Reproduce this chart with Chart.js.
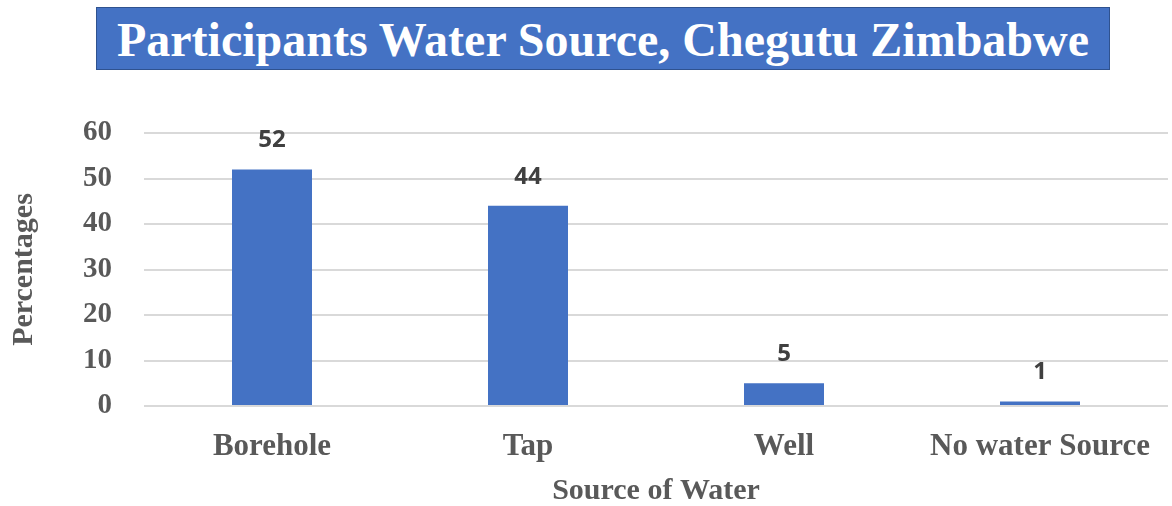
<!DOCTYPE html>
<html>
<head>
<meta charset="utf-8">
<script src="https://cdn.jsdelivr.net/npm/chart.js@4.4.1/dist/chart.umd.min.js"></script>
<style>
  html, body { margin: 0; padding: 0; background: #fff; }
  #wrap { position: relative; width: 1172px; height: 506px; }
  #titleBox {
    position: absolute; left: 96px; top: 7px; width: 1012px; height: 61px;
    background: #4472C4; border: 1px solid #2F528F;
    color: #fff; font: bold 48px "Liberation Serif", "Times New Roman", serif;
    text-align: center; line-height: 64px; white-space: nowrap;
  }
</style>
</head>
<body>
<div id="wrap">
  <canvas id="myChart" width="1172" height="506"></canvas>
  <div id="titleBox">Participants Water Source, Chegutu Zimbabwe</div>
</div>
<script>
// données
var categories = ['Borehole', 'Tap', 'Well', 'No water Source'];
var percentages = [52, 44, 5, 1];
var yTicks = [0, 10, 20, 30, 40, 50, 60];

var serif = '"Liberation Serif", "Times New Roman", serif';

// étiquettes au-dessus des barres
const barLabels = {
    id: 'barLabels',
    afterDatasetsDraw(chart) {
        const ctx = chart.ctx;
        const meta = chart.getDatasetMeta(0);
        ctx.save();
        ctx.font = 'bold 24px "Open Sans", "Liberation Sans", sans-serif';
        ctx.fillStyle = '#404040';
        ctx.textAlign = 'center';
        ctx.textBaseline = 'middle';
        meta.data.forEach((bar, i) => {
            ctx.fillText(percentages[i], bar.x, bar.y - 29);
        });
        ctx.restore();
    }
};

const ctx = document.getElementById('myChart');
const chart = new Chart(ctx, {
    type: 'bar',
    data: {
        labels: categories,
        datasets: [{
            data: percentages,
            backgroundColor: '#4472C4',
            categoryPercentage: 1,
            barPercentage: 0.3125
        }]
    },
    options: {
        responsive: false,
        animation: false,
        layout: { padding: { left: 6, top: 133, right: 4, bottom: 0 } },
        plugins: {
            legend: { display: false },
            tooltip: { enabled: false }
        },
        scales: {
            x: {
                grid: { display: false },
                border: { display: false },
                ticks: {
                    color: '#595959',
                    font: { family: serif, size: 31, weight: 'bold' },
                    padding: 14
                },
                title: {
                    display: true,
                    text: 'Source of Water',
                    color: '#595959',
                    font: { family: serif, size: 30, weight: 'bold', lineHeight: 1 },
                    padding: { top: 14, bottom: 0 }
                },
                afterFit(scale) { scale.height = 100; }
            },
            y: {
                min: 0,
                max: 60,
                afterBuildTicks(scale) {
                    scale.ticks = yTicks.map(v => ({ value: v }));
                },
                grid: { color: '#D9D9D9', lineWidth: 2, drawTicks: false },
                border: { display: false },
                ticks: {
                    color: '#595959',
                    font: { family: serif, size: 29, weight: 'bold' },
                    padding: 32
                },
                title: {
                    display: true,
                    text: 'Percentages',
                    color: '#595959',
                    font: { family: serif, size: 30, weight: 'bold' },
                    padding: 0
                },
                afterFit(scale) { scale.width = 138; }
            }
        }
    },
    plugins: [barLabels]
});
</script>
</body>
</html>
